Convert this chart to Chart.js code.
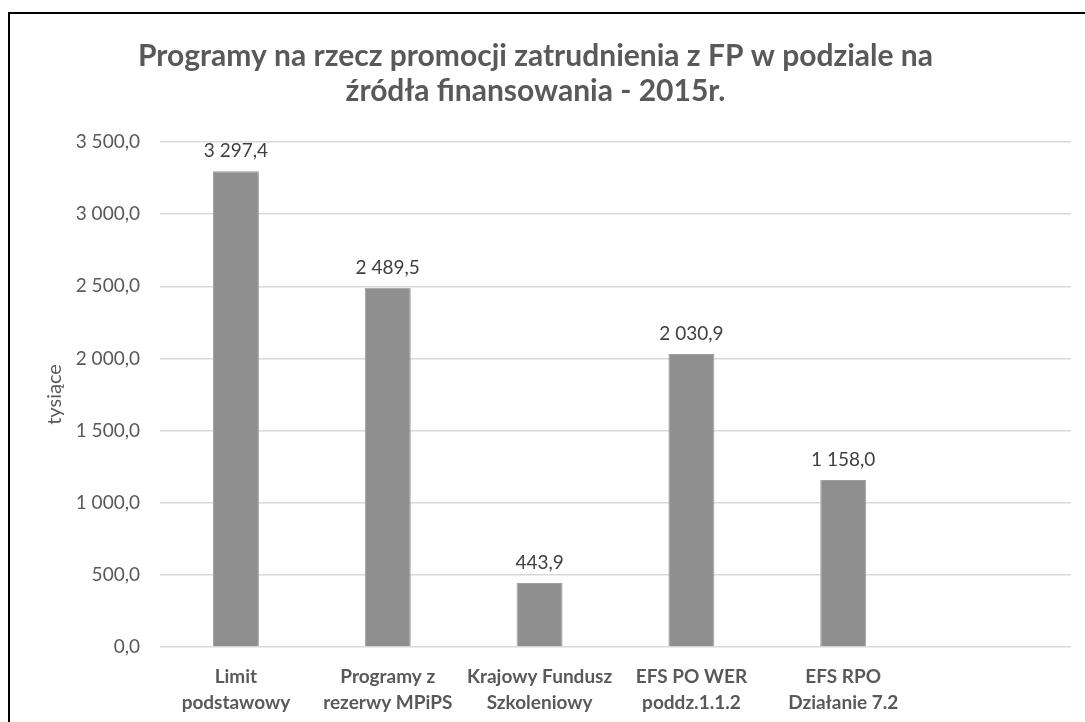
<!DOCTYPE html>
<html lang="pl">
<head>
<meta charset="utf-8">
<title>Programy na rzecz promocji zatrudnienia z FP - 2015r.</title>
<script src="https://cdn.jsdelivr.net/npm/chart.js@4/dist/chart.umd.min.js"></script>
<style>
  html, body { margin: 0; padding: 0; background: #fff; overflow: hidden; }
  #wrap { position: absolute; left: 0; top: 0; width: 1085px; height: 722px; }
  #frame {
    position: absolute; left: 8px; top: 12px; width: 1200px; height: 800px;
    border-left: 2px solid #000; border-top: 2px solid #000; pointer-events: none;
  }
</style>
</head>
<body>
<div id="wrap"><canvas id="myChart" width="1085" height="722"></canvas></div>
<div id="frame"></div>
<script>
// sources of financing (last slot is left empty on purpose)
const categories = [
  ['Limit', 'podstawowy'],
  ['Programy z', 'rezerwy MPiPS'],
  ['Krajowy Fundusz', 'Szkoleniowy'],
  ['EFS PO WER', 'poddz.1.1.2'],
  ['EFS RPO', 'Działanie 7.2'],
  ''
];
const amounts = [3297.4, 2489.5, 443.9, 2030.9, 1158.0, null];

const titleLines = [
  'Programy na rzecz promocji zatrudnienia z FP w podziale na',
  'źródła finansowania - 2015r.'
];
const yTitle = 'tysiące';

// 3297.4 -> "3 297,4"
function fmt(v) {
  const parts = v.toFixed(1).split('.');
  parts[0] = parts[0].replace(/\B(?=(\d{3})+(?!\d))/g, ' ');
  return parts.join(',');
}

// value labels above the bars
const barLabels = {
  id: 'barLabels',
  afterDatasetsDraw(chart) {
    const ctx = chart.ctx;
    const meta = chart.getDatasetMeta(0);
    ctx.save();
    ctx.font = '19px Lato';
    ctx.fillStyle = '#404040';
    ctx.textAlign = 'center';
    ctx.textBaseline = 'alphabetic';
    meta.data.forEach(function(bar, i) {
      const v = amounts[i];
      if (v == null) return;
      ctx.fillText(fmt(v), bar.x, bar.y - 14);
    });
    ctx.restore();
  }
};

const ctx = document.getElementById('myChart');

new Chart(ctx, {
  type: 'bar',
  data: {
    labels: categories,
    datasets: [{
      data: amounts,
      backgroundColor: '#8f8f8f',
      borderColor: '#a0a0a0',
      borderWidth: 1,
      categoryPercentage: 1,
      barPercentage: 0.303
    }]
  },
  options: {
    responsive: false,
    animation: false,
    layout: { padding: { left: 0, right: 14, top: 0, bottom: 0 } },
    plugins: {
      legend: { display: false },
      tooltip: { enabled: false },
      title: {
        display: true,
        text: titleLines,
        color: '#595959',
        font: { family: 'Lato', size: 30, weight: 'bold', lineHeight: 35 / 30 },
        padding: { top: 38.5, bottom: 33.5 }
      }
    },
    scales: {
      x: {
        grid: { display: false, drawTicks: false },
        border: { display: false },
        ticks: {
          color: '#595959',
          font: { family: 'Lato', size: 19, weight: 'bold', lineHeight: 26 / 19 },
          padding: 17,
          maxRotation: 0,
          autoSkip: false
        },
        afterFit: function(scale) { scale.height = 722 - 647; }
      },
      y: {
        min: 0,
        max: 3500,
        border: { display: false },
        grid: { color: '#d9d9d9', lineWidth: 1.5, drawTicks: false },
        ticks: {
          stepSize: 500,
          color: '#595959',
          font: { family: 'Lato', size: 19 },
          padding: 20,
          callback: function(v) { return fmt(v); }
        },
        title: {
          display: true,
          text: yTitle,
          color: '#595959',
          font: { family: 'Lato', size: 20 },
          padding: { top: 43, bottom: 0 }
        },
        afterFit: function(scale) { scale.width = 160; }
      }
    }
  },
  plugins: [barLabels]
});
</script>
</body>
</html>
